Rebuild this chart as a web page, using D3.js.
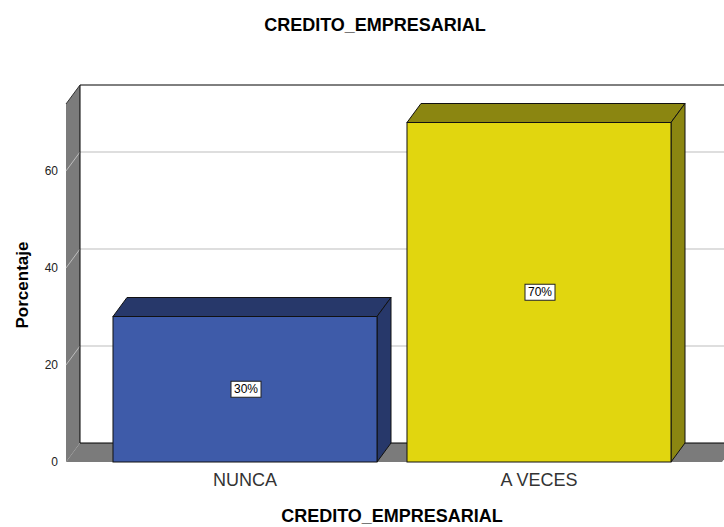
<!DOCTYPE html>
<html><head><meta charset="utf-8">
<script src="https://cdn.jsdelivr.net/npm/d3@7"></script>
<style>body{margin:0;background:#fff}svg{display:block}text{font-family:"Liberation Sans",Arial,sans-serif}</style>
</head><body>
<svg id="c" width="724" height="527"></svg>
<script>
const categories = ["NUNCA", "A VECES"];
const values = [30, 70];
const labels = ["30%", "70%"];
const yTicks = [0, 20, 40, 60];
const frontColors = ["#3e5ba9", "#e1d60f"];
const sideColors = ["#27386a", "#8b8611"];

const svg = d3.select("#c");
const W = 724, H = 527;
const dx = 14, dy = -19;
const y = d3.scaleLinear().domain([0, 75]).range([462, 98.25]);
const x = d3.scaleBand().domain(categories).range([98, 686]).paddingInner(0.102).paddingOuter(0.051);
const x0 = 66, x1 = 722;
const yTop = 104;

const g = svg.append("g");
// left wall
g.append("path").attr("d", `M${x0},${y(0)}L${x0},${yTop}L${x0+dx},${yTop+dy}L${x0+dx},${y(0)+dy}Z`)
  .attr("fill", "#7b7b7b");
// floor
g.append("path").attr("d", `M${x0},${y(0)}L${x1},${y(0)}L${x1+dx},${y(0)+dy}L${x0+dx},${y(0)+dy}Z`)
  .attr("fill", "#7b7b7b");
// gridlines
yTicks.filter(t => t > 0).forEach(t => {
  g.append("path").attr("d", `M${x0},${y(t)}L${x0+dx},${y(t)+dy}L${W+20},${y(t)+dy}`)
    .attr("fill", "none").attr("stroke", "#bdbdbd").attr("stroke-width", 1);
});
// back wall borders
g.append("path").attr("d", `M${x0+dx},${y(0)+dy}L${x0+dx},${yTop+dy}L${W+20},${yTop+dy}`)
  .attr("fill", "none").attr("stroke", "#000").attr("stroke-width", 1);
g.append("line").attr("x1", x0+dx).attr("x2", W+20).attr("y1", y(0)+dy).attr("y2", y(0)+dy)
  .attr("stroke", "#000").attr("stroke-width", 1);
g.append("line").attr("x1", x0).attr("y1", yTop).attr("x2", x0+dx).attr("y2", yTop+dy)
  .attr("stroke", "#333").attr("stroke-width", 1);

// bars
categories.forEach((c, i) => {
  const bx = x(c), bw = x.bandwidth(), top = y(values[i]), bot = y(0);
  const bg = svg.append("g");
  bg.append("path").attr("d", `M${bx},${top}L${bx+dx},${top+dy}L${bx+bw+dx},${top+dy}L${bx+bw},${top}Z`)
    .attr("fill", sideColors[i]).attr("stroke", "#111").attr("stroke-width", 1).attr("stroke-linejoin", "round");
  bg.append("path").attr("d", `M${bx+bw},${top}L${bx+bw+dx},${top+dy}L${bx+bw+dx},${bot+dy}L${bx+bw},${bot}Z`)
    .attr("fill", sideColors[i]).attr("stroke", "#111").attr("stroke-width", 1).attr("stroke-linejoin", "round");
  bg.append("rect").attr("x", bx).attr("y", top).attr("width", bw).attr("height", bot - top)
    .attr("fill", frontColors[i]).attr("stroke", "#111").attr("stroke-width", 1);
  const cx = bx + bw/2 + 1, cy = (top + bot)/2;
  bg.append("rect").attr("x", cx-15).attr("y", cy-8).attr("width", 30).attr("height", 16)
    .attr("fill", "#fff").attr("stroke", "#222").attr("stroke-width", 1);
  bg.append("text").attr("x", cx).attr("y", cy + 4).attr("text-anchor", "middle")
    .attr("font-size", 12).attr("fill", "#000").text(labels[i]);
});

// y tick labels
yTicks.forEach(t => {
  svg.append("text").attr("x", 58).attr("y", y(t) + 4).attr("text-anchor", "end")
    .attr("font-size", 12).attr("fill", "#222").text(t);
});
// x labels
categories.forEach(c => {
  svg.append("text").attr("x", x(c) + x.bandwidth()/2).attr("y", 486).attr("text-anchor", "middle")
    .attr("font-size", 18).attr("fill", "#333").text(c);
});
// titles
svg.append("text").attr("x", 375).attr("y", 31).attr("text-anchor", "middle")
  .attr("font-size", 18).attr("font-weight", "bold").text("CREDITO_EMPRESARIAL");
svg.append("text").attr("x", 392).attr("y", 522).attr("text-anchor", "middle")
  .attr("font-size", 18).attr("font-weight", "bold").text("CREDITO_EMPRESARIAL");
svg.append("text").attr("transform", "translate(28,285) rotate(-90)").attr("text-anchor", "middle")
  .attr("font-size", 17).attr("font-weight", "bold").text("Porcentaje");
</script>
</body></html>
